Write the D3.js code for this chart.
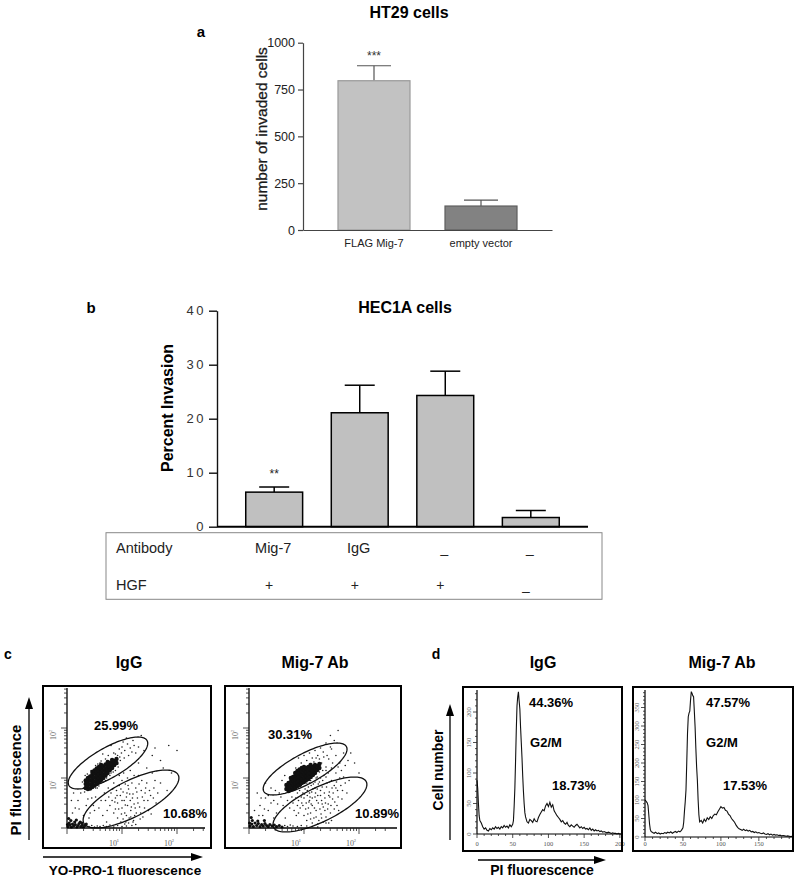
<!DOCTYPE html>
<html><head><meta charset="utf-8">
<script src="https://cdn.jsdelivr.net/npm/d3@7"></script>
<style>body{margin:0;background:#fff}svg{display:block}</style>
</head><body><script>
// ================= DATA =================
// Panel a
const aTitle = "HT29 cells";
const aCategories = ["FLAG Mig-7", "empty vector"];
const aValues = [797, 128];
const aErrors = [80, 32];
const aTicks = [0, 250, 500, 750, 1000];
const aStars = ["***", ""];
const aYLabel = "number of invaded cells";

// Panel b
const bTitle = "HEC1A cells";
const bGroups = ["g1", "g2", "g3", "g4"];
const bValues = [6.4, 21.1, 24.3, 1.7];
const bErrors = [0.95, 5.1, 4.5, 1.3];
const bTicks = [0, 10, 20, 30, 40];
const bStars = ["**", "", "", ""];
const bAntibody = ["Mig-7", "IgG", "–", "–"];
const bHGF = ["+", "+", "+", "–"];
const bYLabel = "Percent Invasion";

// Panel c (flow cytometry, values given as log10 decades)
const cTitles = ["IgG", "Mig-7 Ab"];
const cUpperPct = ["25.99%", "30.31%"];
const cLowerPct = ["10.68%", "10.89%"];
const cTickValues = [10, 100];
// gates: center [lx, ly], semi-axis vectors u, v (decades)
const cUpperGates = [[[0.745, 1.30], [0.71, 0.45], [0.136, -0.26]], [[1.02, 1.18], [0.75, 0.45], [0.136, -0.26]]];
const cLowerGates = [[[1.164, 0.58], [0.858, 0.482], [0.149, -0.32]], [[1.29, 0.47], [0.84, 0.46], [0.15, -0.30]]];
const cIgGBase = "0.02,0.03 0.05,0.06 0.08,0.02 0.10,0.08 0.12,0.04 0.15,0.07 0.18,0.02 0.20,0.05 0.22,0.09 0.25,0.03 0.28,0.06 0.30,0.02 0.33,0.05 0.04,0.10 0.14,0.12 0.24,0.12 0.35,0.08 0.07,0.15 0.17,0.16 0.03,0.19 0.01,0.07 0.27,0.10";
const cIgGCore = "0.34,0.80 0.34,0.88 0.34,0.95 0.38,0.78 0.38,0.86 0.38,0.93 0.38,1.00 0.42,0.79 0.42,0.87 0.42,0.95 0.42,1.03 0.46,0.82 0.46,0.90 0.46,0.98 0.46,1.06 0.46,1.12 0.50,0.85 0.50,0.93 0.50,1.01 0.50,1.09 0.50,1.15 0.54,0.88 0.54,0.96 0.54,1.04 0.54,1.12 0.54,1.19 0.58,0.92 0.58,1.00 0.58,1.08 0.58,1.15 0.58,1.22 0.62,0.96 0.62,1.04 0.62,1.11 0.62,1.19 0.62,1.26 0.66,1.00 0.66,1.07 0.66,1.15 0.66,1.23 0.70,1.05 0.70,1.12 0.70,1.19 0.70,1.27 0.74,1.10 0.74,1.17 0.74,1.24 0.74,1.32 0.78,1.16 0.78,1.23 0.78,1.30 0.82,1.20 0.82,1.28 0.82,1.36 0.86,1.26 0.86,1.34 0.90,1.30 0.90,1.38";
const cIgGSparse = "0.30,0.80 0.33,1.05 0.28,0.92 0.52,1.25 0.60,1.30 0.75,1.45 0.85,1.50 0.92,1.45 0.95,1.58 1.00,1.62 1.05,1.55 1.02,1.72 1.10,1.68 1.08,1.80 0.97,1.35 0.93,1.22 0.88,1.15 0.80,1.10 0.70,0.95 0.62,0.90 1.15,1.60 1.20,1.75 1.25,1.50 1.30,1.62 1.40,1.55 1.55,1.45 1.70,1.35 1.05,2.05 0.80,1.65 0.65,1.48 0.55,0.80 0.25,0.70 0.20,0.55 0.35,0.45 0.45,0.60 0.15,0.40 0.50,0.35 0.30,0.25 1.35,1.85 1.85,1.65 1.60,1.60 0.10,0.30 0.08,0.55 0.22,0.38 0.40,0.20 0.12,0.70 " +
  "0.75,0.80 0.80,0.70 0.85,0.90 0.88,0.60 0.90,0.75 0.92,0.50 0.95,0.85 0.97,0.65 1.00,0.40 1.00,0.95 1.02,0.72 1.04,0.55 1.05,0.30 1.06,0.88 1.08,0.62 1.10,0.45 1.10,1.00 1.12,0.78 1.13,0.20 1.15,0.55 1.16,0.35 1.18,0.90 1.20,0.68 1.21,0.15 1.22,0.48 1.25,0.80 1.26,0.30 1.28,0.60 1.30,1.05 1.32,0.42 1.35,0.75 1.38,0.22 1.40,0.55 1.45,0.90 1.48,0.35 1.52,0.65 1.58,0.80 0.70,0.55 0.78,0.45 0.85,0.30 0.92,0.20 0.98,0.12 1.05,0.08 1.12,0.10 1.18,0.05 1.25,0.07 0.65,0.25 0.72,0.12 1.03,1.10 1.15,1.15 1.22,1.05 0.95,1.05 1.08,0.25 1.14,0.68 1.24,0.40 1.33,0.18 0.82,0.55 0.88,0.38 1.00,0.55 1.36,0.95 1.42,0.70 1.62,0.50 1.70,0.90 1.55,1.10 " +
  "0.40,0.03 0.45,0.05 0.50,0.02 0.55,0.04 0.60,0.03 0.66,0.05 0.72,0.03 0.78,0.06 0.85,0.02 0.92,0.05 1.00,0.03 1.08,0.04 " +
  "0.32,0.72 0.37,1.08 0.44,1.15 0.52,0.80 0.58,0.84 0.66,0.92 0.72,1.00 0.78,1.05 0.84,1.12 0.92,1.28 0.96,1.42 0.70,1.38 0.62,1.34 0.56,1.28 0.88,1.48 0.99,1.50 1.04,1.40 1.12,1.45 1.18,1.52 1.22,1.65 0.98,0.78 1.06,0.46 1.09,0.70 1.11,0.85 1.17,0.42 1.19,0.60 1.23,0.25 1.27,0.72 1.29,0.50 1.31,0.88 1.34,0.30 1.37,0.62 1.41,0.40 1.43,0.80 1.47,0.55 1.50,0.75 1.53,0.28 1.57,0.60 1.60,0.95 1.65,0.70 0.83,0.78 0.87,0.52 0.91,0.65 0.94,0.38 0.99,0.28 1.02,0.18 1.07,0.12 1.16,0.22 1.20,0.12 0.76,0.62 0.73,0.35 0.68,0.70 0.62,0.55 0.58,0.40 0.52,0.62 0.48,0.45 0.42,0.30 0.38,0.58 1.75,1.20 1.90,1.10 1.82,0.75 2.00,1.55 1.45,1.20 1.30,1.30";
const cMigBase = "0.02,0.04 0.05,0.08 0.08,0.03 0.11,0.10 0.14,0.05 0.17,0.09 0.20,0.03 0.23,0.07 0.26,0.04 0.29,0.09 0.32,0.05 0.35,0.03 0.38,0.07 0.42,0.04 0.46,0.06 0.50,0.03 0.55,0.05 0.60,0.02 0.06,0.15 0.16,0.14 0.28,0.15 0.04,0.21 0.01,0.10";
const cMigCore = "0.68,0.78 0.68,0.86 0.72,0.74 0.72,0.82 0.72,0.90 0.76,0.76 0.76,0.84 0.76,0.92 0.76,1.00 0.80,0.78 0.80,0.86 0.80,0.94 0.80,1.02 0.84,0.80 0.84,0.88 0.84,0.96 0.84,1.04 0.84,1.10 0.88,0.84 0.88,0.92 0.88,1.00 0.88,1.08 0.88,1.14 0.92,0.86 0.92,0.94 0.92,1.02 0.92,1.10 0.92,1.17 0.96,0.90 0.96,0.98 0.96,1.06 0.96,1.14 0.96,1.20 1.00,0.92 1.00,1.00 1.00,1.08 1.00,1.16 1.00,1.22 1.04,0.96 1.04,1.04 1.04,1.12 1.04,1.20 1.08,0.98 1.08,1.06 1.08,1.14 1.08,1.22 1.12,1.02 1.12,1.10 1.12,1.18 1.12,1.26 1.16,1.06 1.16,1.14 1.16,1.22 1.20,1.10 1.20,1.18 1.20,1.26 1.24,1.16 1.24,1.24 1.28,1.20 1.28,1.28";
const cMigSparse = "0.60,0.95 0.65,1.05 0.85,1.20 0.95,1.30 1.05,1.35 1.15,1.40 1.25,1.45 1.30,1.60 1.35,1.52 1.40,1.70 1.45,1.38 1.50,1.58 1.55,1.75 1.48,1.85 1.20,1.55 1.10,1.50 1.32,1.30 1.40,1.22 1.58,1.45 1.65,1.30 1.72,1.50 1.80,1.35 0.55,0.70 0.45,0.55 0.30,0.60 0.35,0.35 0.20,0.45 0.50,0.30 0.40,0.80 0.25,0.25 1.62,1.95 1.00,1.45 0.90,1.40 0.15,0.70 0.10,0.35 0.30,0.90 " +
  "0.95,0.85 0.98,0.70 1.00,0.60 1.02,0.78 1.04,0.50 1.05,0.90 1.06,0.65 1.08,0.40 1.08,0.82 1.10,0.55 1.12,0.95 1.12,0.30 1.14,0.72 1.15,0.45 1.17,0.88 1.18,0.20 1.20,0.62 1.22,1.00 1.22,0.35 1.24,0.78 1.26,0.50 1.27,0.15 1.28,0.92 1.30,0.65 1.31,0.28 1.33,0.82 1.35,0.42 1.36,1.05 1.38,0.60 1.40,0.22 1.42,0.90 1.44,0.48 1.46,0.72 1.48,0.30 1.50,0.95 1.52,0.58 1.55,0.38 1.58,0.80 1.62,0.62 1.65,1.00 1.70,0.75 1.75,0.90 0.85,0.60 0.88,0.45 0.90,0.30 0.92,0.75 0.80,0.50 0.82,0.35 1.00,0.25 1.05,0.15 1.15,0.10 1.25,0.08 1.35,0.12 1.45,0.10 1.18,1.05 1.28,1.12 1.40,1.15 1.10,0.70 1.32,0.55 1.20,0.80 1.38,0.35 1.25,0.65 1.15,0.60 1.45,0.65 1.55,0.85 1.60,0.45 1.03,0.95 1.13,0.85 0.96,0.50 1.07,0.28 " +
  "0.65,0.05 0.70,0.03 0.75,0.06 0.80,0.04 0.88,0.03 0.95,0.05 1.05,0.04 1.15,0.03 1.25,0.02 " +
  "0.98,0.45 1.01,0.68 1.03,0.38 1.06,0.75 1.09,0.52 1.11,0.62 1.13,0.48 1.16,0.78 1.19,0.40 1.21,0.70 1.23,0.55 1.26,0.88 1.29,0.38 1.30,0.75 1.33,0.48 1.34,0.95 1.37,0.70 1.39,0.50 1.41,0.82 1.43,0.38 1.46,0.92 1.47,0.62 1.49,0.45 1.51,0.80 1.53,0.70 1.56,0.52 1.59,0.92 1.61,0.75 1.63,0.35 1.67,0.85 1.69,0.58 1.72,1.02 1.78,0.70 1.82,0.95 1.10,0.90 1.14,1.00 1.20,0.92 1.24,1.02 1.30,1.00 1.34,1.15 1.40,1.02 1.44,1.10 1.50,1.20 1.52,1.30 1.58,1.10 1.62,1.22 1.68,1.15 1.75,1.25 1.42,1.45 1.48,1.62 1.28,1.38 1.36,1.42 1.18,1.32 1.22,1.40 0.88,0.70 0.90,0.55 0.93,0.40 0.95,0.62 0.86,0.25 0.78,0.62 0.74,0.40 0.70,0.55 0.66,0.20 0.62,0.45 0.58,0.62 0.52,0.48 0.48,0.75 0.45,0.20 0.40,0.50 0.35,0.65 0.28,0.38 0.22,0.60 0.18,0.25 1.12,0.18 1.22,0.22 1.32,0.20 1.40,0.10 1.50,0.15 1.92,1.30 1.85,1.50 2.00,1.10";

// Panel d (DNA content histograms): [PI fluorescence, cell count]
const dTitles = ["IgG", "Mig-7 Ab"];
const dPeak1Pct = ["44.36%", "47.57%"];
const dPhase = ["G2/M", "G2/M"];
const dPeak2Pct = ["18.73%", "17.53%"];
const dIgGX = [0,1,2,3,4,6,8,10,12,14,16,18,20,22,24,26,28,30,32,34,36,38,40,42,44,46,48,50,51,52,53,54,55,56,57,58,59,60,61,62,63,64,65,66,67,68,70,72,74,76,78,80,82,84,86,88,90,92,94,96,98,100,102,104,106,108,110,112,114,116,118,120,122,124,126,128,130,132,134,136,138,140,142,144,146,148,150,152,154,156,158,160,162,164,166,168,170,172,174,176,178,180,182,184,186,188,190,192,194,196,198,200,202];
const dIgGY = [88,75,50,30,22,18,12,8,10,6,5,9,7,10,8,12,9,11,8,12,10,14,11,13,10,15,12,16,22,45,75,120,170,210,225,233,218,205,175,150,125,95,70,50,35,28,20,18,24,22,19,25,21,20,27,32,36,40,38,46,50,45,52,44,48,38,34,30,27,24,20,22,18,16,19,14,12,15,13,11,14,16,13,10,12,9,11,8,9,7,10,6,8,5,7,5,6,4,5,3,4,3,2,3,2,1,2,1,1,0,1,0,0];
const dMigX = [0,1,2,3,4,5,6,7,8,10,12,14,16,18,20,22,24,26,28,30,32,34,36,38,40,42,44,46,48,50,51,52,53,54,55,56,57,58,59,60,61,62,63,64,65,66,67,68,69,70,71,72,74,76,78,80,82,84,86,88,90,92,94,96,98,100,102,104,106,108,110,112,114,116,118,120,122,124,126,128,130,132,134,136,138,140,142,144,146,148,150,152,154,156,158,160,162,164,166,168,170,172,174,176,178,180,182,184,186,188,190,192,194];
const dMigY = [100,98,95,92,85,60,35,20,15,12,10,13,9,11,8,10,9,12,10,13,11,14,10,13,15,12,16,14,18,25,40,70,95,127,200,280,325,335,340,370,393,388,382,379,340,298,240,190,154,100,60,41,45,38,48,42,52,47,55,50,58,62,60,68,75,82,78,80,72,70,62,58,50,45,40,32,26,22,20,18,21,17,19,16,18,14,15,12,14,11,12,10,9,11,8,7,9,6,8,5,7,5,6,4,5,3,4,3,2,3,2,1,2];
const dXTicks = [[0, 50, 100, 150, 200], [0, 50, 100, 150]];
const dYTicks = [[0, 50, 100, 150, 200], [0, 50, 100, 150, 200, 250, 300, 350]];

// ================= DRAWING =================
const FONT = '"Liberation Sans", Arial, Helvetica, sans-serif';
const SERIF = '"Liberation Serif", "DejaVu Serif", serif';
const svg = d3.select("body").append("svg").attr("width", 800).attr("height", 881);

function txt(g, x, y, s, size, o = {}) {
  const t = g.append("text").attr("x", x).attr("y", y).text(s)
    .attr("font-size", size).attr("font-family", o.family || FONT)
    .attr("font-weight", o.bold ? "bold" : "normal")
    .attr("text-anchor", o.anchor || "middle").attr("fill", o.fill || "#000");
  if (o.rotate) t.attr("transform", `rotate(${o.rotate},${x},${y})`);
  if (o.ls) t.attr("letter-spacing", o.ls);
  return t;
}
const parsePts = s => s.trim().split(/\s+/).map(p => p.split(",").map(Number));

// ---------- Panel a ----------
{
  const g = svg.append("g");
  const y = d3.scaleLinear().domain([0, 1000]).range([230, 42.7]);
  const x = d3.scaleBand().domain(aCategories).range([303, 552]).paddingInner(0.327).paddingOuter(0.327);
  const fills = ["#c2c2c2", "#828282"], strokes = ["#9a9a9a", "#5e5e5e"];
  aCategories.forEach((c, i) => {
    const cx = x(c) + x.bandwidth() / 2;
    g.append("line").attr("x1", cx).attr("x2", cx).attr("y1", y(aValues[i])).attr("y2", y(aValues[i] + aErrors[i])).attr("stroke", "#555").attr("stroke-width", 1.2);
    g.append("line").attr("x1", cx - 17).attr("x2", cx + 17).attr("y1", y(aValues[i] + aErrors[i])).attr("y2", y(aValues[i] + aErrors[i])).attr("stroke", "#555").attr("stroke-width", 1.2);
    g.append("rect").attr("x", x(c)).attr("y", y(aValues[i])).attr("width", x.bandwidth()).attr("height", y(0) - y(aValues[i]))
      .attr("fill", fills[i]).attr("stroke", strokes[i]).attr("stroke-width", 1.2);
    if (aStars[i]) txt(g, cx, 60, aStars[i], 12, { fill: "#333" });
  });
  const ay = g.append("g").attr("transform", "translate(303,0)").call(d3.axisLeft(y).tickValues(aTicks).tickFormat(d3.format("d")).tickSize(5).tickPadding(3).tickSizeOuter(0));
  ay.selectAll("text").attr("font-size", 12.5).attr("font-family", FONT).attr("fill", "#222");
  ay.selectAll("line,path").attr("stroke", "#444").attr("stroke-width", 1.2);
  const ax = g.append("g").attr("transform", "translate(0,230)").call(d3.axisBottom(x).tickSize(0).tickPadding(9).tickSizeOuter(0));
  ax.selectAll("text").attr("font-size", 11).attr("font-family", FONT).attr("fill", "#222");
  ax.selectAll("path").attr("stroke", "#444").attr("stroke-width", 1.2);
  txt(g, 409, 18, aTitle, 16, { bold: true });
  txt(g, 201, 37, "a", 15, { bold: true });
  txt(g, 267, 129, aYLabel, 15.5, { rotate: -90, fill: "#1a1a1a" }).attr("stroke", "#1a1a1a").attr("stroke-width", 0.3);
}

// ---------- Panel b ----------
{
  const g = svg.append("g");
  const y = d3.scaleLinear().domain([0, 40]).range([526.7, 310.7]);
  const x = d3.scaleBand().domain(bGroups).range([217, 588]).paddingInner(0.335).paddingOuter(0.336);
  bGroups.forEach((c, i) => {
    const cx = x(c) + x.bandwidth() / 2;
    const top = y(bValues[i] + bErrors[i]);
    g.append("line").attr("x1", cx).attr("x2", cx).attr("y1", y(bValues[i])).attr("y2", top).attr("stroke", "#000").attr("stroke-width", 1.5);
    g.append("line").attr("x1", cx - 15).attr("x2", cx + 15).attr("y1", top).attr("y2", top).attr("stroke", "#000").attr("stroke-width", 1.5);
    g.append("rect").attr("x", x(c)).attr("y", y(bValues[i])).attr("width", x.bandwidth()).attr("height", y(0) - y(bValues[i]))
      .attr("fill", "#c0c0c0").attr("stroke", "#000").attr("stroke-width", 1.5);
    if (bStars[i]) txt(g, cx, 478, bStars[i], 12, { fill: "#222" });
    txt(g, cx - 1, 553, bAntibody[i], 14.5, { fill: "#222" }).attr("dy", bAntibody[i] === "–" ? 6 : 0);
    txt(g, cx - 5, 590, bHGF[i], 14, { fill: "#222" }).attr("dy", bHGF[i] === "–" ? 6 : 0);
  });
  const ay = g.append("g").attr("transform", "translate(217,0)").call(d3.axisLeft(y).tickValues(bTicks).tickSize(8).tickPadding(3).tickSizeOuter(0));
  ay.selectAll("text").attr("font-size", 13).attr("font-family", FONT).attr("fill", "#333").attr("letter-spacing", 2.5);
  ay.selectAll("line,path").attr("stroke", "#111").attr("stroke-width", 1.4);
  g.append("line").attr("x1", 217).attr("x2", 588).attr("y1", y(0)).attr("y2", y(0)).attr("stroke", "#000").attr("stroke-width", 2);
  g.append("rect").attr("x", 106).attr("y", 532.7).attr("width", 496).attr("height", 66.6).attr("fill", "none").attr("stroke", "#888").attr("stroke-width", 1);
  txt(g, 116, 553, "Antibody", 14.5, { anchor: "start", fill: "#222" });
  txt(g, 116, 590, "HGF", 14.5, { anchor: "start", fill: "#222" });
  txt(g, 405, 313, bTitle, 16, { bold: true });
  txt(g, 91, 313, "b", 15, { bold: true });
  txt(g, 173, 408, bYLabel, 16, { bold: true, rotate: -90 });
}

// ---------- Panel c ----------
function arrow(g, x1, y1, x2, y2) {
  g.append("line").attr("x1", x1).attr("y1", y1).attr("x2", x2).attr("y2", y2).attr("stroke", "#000").attr("stroke-width", 1.3);
  const a = Math.atan2(y2 - y1, x2 - x1), L = 9, W = 4;
  const p = [[x2 + Math.cos(a) * 3, y2 + Math.sin(a) * 3],
    [x2 - Math.cos(a) * L + Math.sin(a) * W, y2 - Math.sin(a) * L - Math.cos(a) * W],
    [x2 - Math.cos(a) * L - Math.sin(a) * W, y2 - Math.sin(a) * L + Math.cos(a) * W]];
  g.append("path").attr("d", "M" + p.join("L") + "Z").attr("fill", "#000");
}
function supLabel(g, x, y, base, exp, rot) {
  const t = g.append("text").attr("x", x).attr("y", y).attr("font-size", 8).attr("font-family", SERIF)
    .attr("fill", "#666").attr("text-anchor", "middle");
  t.append("tspan").text(base);
  t.append("tspan").text(exp).attr("font-size", 6).attr("dy", -3);
  if (rot) t.attr("transform", `rotate(${rot},${x},${y})`);
}
{
  const g = svg.append("g");
  const boxes = [{ l: 43, t: 686, r: 211, b: 848, ox: 67, oy: 828, xr: 205 }, { l: 225, t: 686, r: 401, b: 848, ox: 249, oy: 828, xr: 397 }];
  const base = [cIgGBase, cMigBase].map(parsePts), core = [cIgGCore, cMigCore].map(parsePts), sparse = [cIgGSparse, cMigSparse].map(parsePts);
  boxes.forEach((B, k) => {
    const xs = d3.scaleLog().domain([1, 10 ** 2.5]).range([B.ox, B.ox + 55 * 2.5]);
    const ys = d3.scaleLog().domain([1, 10 ** 2.8]).range([B.oy, B.oy - 50 * 2.8]);
    const P = d => [xs(10 ** d[0]), ys(10 ** d[1])];
    const cid = "clipc" + k;
    g.append("clipPath").attr("id", cid).append("rect").attr("x", B.l).attr("y", B.t).attr("width", B.r - B.l).attr("height", B.b - B.t);
    const inner = g.append("g").attr("clip-path", `url(#${cid})`);
    inner.selectAll(".s").data(sparse[k]).join("circle").attr("cx", d => P(d)[0]).attr("cy", d => P(d)[1]).attr("r", 0.8).attr("fill", "#222");
    inner.selectAll(".c").data(core[k]).join("circle").attr("cx", d => P(d)[0]).attr("cy", d => P(d)[1]).attr("r", 2.2).attr("fill", "#111");
    inner.selectAll(".b").data(base[k]).join("circle").attr("cx", d => P(d)[0]).attr("cy", d => P(d)[1]).attr("r", 1.6).attr("fill", "#111");
    [cUpperGates[k], cLowerGates[k]].forEach(gate => {
      const [c, u, v] = gate;
      const pts = d3.range(0, 2 * Math.PI + 0.01, Math.PI / 60).map(t => P([c[0] + u[0] * Math.cos(t) + v[0] * Math.sin(t), c[1] + u[1] * Math.cos(t) + v[1] * Math.sin(t)]));
      inner.append("path").attr("d", d3.line()(pts)).attr("fill", "none").attr("stroke", "#111").attr("stroke-width", 1.3);
    });
    // axes
    g.append("line").attr("x1", B.ox).attr("x2", B.xr).attr("y1", B.oy).attr("y2", B.oy).attr("stroke", "#000").attr("stroke-width", 1.3);
    g.append("line").attr("x1", B.ox).attr("x2", B.ox).attr("y1", B.oy).attr("y2", B.t + 2).attr("stroke", "#000").attr("stroke-width", 1.3);
    xs.ticks().filter(v => xs(v) <= B.xr).forEach(v => {
      const major = Math.abs(Math.log10(v) % 1) < 1e-6;
      g.append("line").attr("x1", xs(v)).attr("x2", xs(v)).attr("y1", B.oy).attr("y2", B.oy + (major ? 6 : 3)).attr("stroke", "#222").attr("stroke-width", 0.8);
    });
    ys.ticks().filter(v => ys(v) >= B.t + 2).forEach(v => {
      const major = Math.abs(Math.log10(v) % 1) < 1e-6;
      g.append("line").attr("x1", B.ox).attr("x2", B.ox - (major ? 6 : 3)).attr("y1", ys(v)).attr("y2", ys(v)).attr("stroke", "#222").attr("stroke-width", 0.8);
    });
    cTickValues.forEach(v => {
      const e = Math.round(Math.log10(v)) === 1 ? "¹" : "²";
      supLabel(g, xs(v) - 8, 846, "10", e);
      supLabel(g, B.ox - 11, ys(v) + 7, "10", e, -90);
    });
    g.append("rect").attr("x", B.l).attr("y", B.t).attr("width", B.r - B.l).attr("height", B.b - B.t).attr("fill", "none").attr("stroke", "#000").attr("stroke-width", 2);
  });
  txt(g, 129, 668, cTitles[0], 16, { bold: true });
  txt(g, 315, 668, cTitles[1], 16, { bold: true });
  txt(g, 116, 730, cUpperPct[0], 13, { bold: true });
  txt(g, 185, 818, cLowerPct[0], 13, { bold: true });
  txt(g, 290, 739, cUpperPct[1], 13, { bold: true });
  txt(g, 377, 818, cLowerPct[1], 13, { bold: true });
  txt(g, 8, 659, "c", 14, { bold: true });
  arrow(g, 29, 840, 29, 700);
  arrow(g, 43, 857, 200, 857);
  txt(g, 21, 780, "PI fluorescence", 15, { bold: true, rotate: -90 });
  txt(g, 125, 875, "YO-PRO-1 fluorescence", 13.5, { bold: true });
}

// ---------- Panel d ----------
{
  const g = svg.append("g");
  const boxes = [
    { l: 463, t: 687, r: 622, b: 851, x0: 477, x1: 622, xMax: 203, y0: 834, y1: 681.5, yMax: 250 },
    { l: 633, t: 687, r: 793, b: 851, x0: 645, x1: 793, xMax: 195, y0: 837, y1: 689, yMax: 400 }];
  const series = [d3.zip(dIgGX, dIgGY), d3.zip(dMigX, dMigY)];
  boxes.forEach((B, k) => {
    const xs = d3.scaleLinear().domain([0, B.xMax]).range([B.x0, B.x1]);
    const ys = d3.scaleLinear().domain([0, B.yMax]).range([B.y0, B.y1]);
    const cid = "clipd" + k;
    g.append("clipPath").attr("id", cid).append("rect").attr("x", B.l).attr("y", B.t).attr("width", B.r - B.l).attr("height", B.b - B.t);
    g.append("path").attr("clip-path", `url(#${cid})`).attr("d", d3.line().x(d => xs(d[0])).y(d => ys(d[1]))(series[k]))
      .attr("fill", "none").attr("stroke", "#111").attr("stroke-width", 1.1);
    g.append("line").attr("x1", B.x0).attr("x2", B.x1).attr("y1", B.y0).attr("y2", B.y0).attr("stroke", "#000").attr("stroke-width", 1.2);
    g.append("line").attr("x1", B.x0).attr("x2", B.x0).attr("y1", B.y0).attr("y2", B.t + 3).attr("stroke", "#000").attr("stroke-width", 1.2);
    d3.range(0, B.xMax + 0.1, 10).forEach(v => {
      const major = v % 50 === 0;
      g.append("line").attr("x1", xs(v)).attr("x2", xs(v)).attr("y1", B.y0).attr("y2", B.y0 + (major ? 4 : 2)).attr("stroke", "#222").attr("stroke-width", 0.8);
    });
    d3.range(0, B.yMax + 0.1, 10).filter(v => ys(v) >= B.t + 3).forEach(v => {
      const major = v % 50 === 0;
      g.append("line").attr("x1", B.x0).attr("x2", B.x0 - (major ? 4 : 2)).attr("y1", ys(v)).attr("y2", ys(v)).attr("stroke", "#222").attr("stroke-width", 0.8);
    });
    dXTicks[k].forEach(v => txt(g, xs(v), 846, String(v), 6.5, { family: SERIF, fill: "#555" }));
    dYTicks[k].forEach(v => txt(g, B.x0 - 6, ys(v), String(v), 6.5, { family: SERIF, fill: "#555", rotate: -90 }));
    g.append("rect").attr("x", B.l).attr("y", B.t).attr("width", B.r - B.l).attr("height", B.b - B.t).attr("fill", "none").attr("stroke", "#000").attr("stroke-width", 2);
  });
  txt(g, 543, 668, dTitles[0], 16, { bold: true });
  txt(g, 722, 668, dTitles[1], 16, { bold: true });
  txt(g, 551, 707, dPeak1Pct[0], 13, { bold: true });
  txt(g, 546, 747, dPhase[0], 13, { bold: true });
  txt(g, 574, 790, dPeak2Pct[0], 13, { bold: true });
  txt(g, 728, 707, dPeak1Pct[1], 13, { bold: true });
  txt(g, 722, 747, dPhase[1], 13, { bold: true });
  txt(g, 745, 790, dPeak2Pct[1], 13, { bold: true });
  txt(g, 436, 659, "d", 14, { bold: true });
  arrow(g, 450, 840, 450, 707);
  arrow(g, 478, 860, 603, 860);
  txt(g, 443, 770, "Cell number", 14, { bold: true, rotate: -90 });
  txt(g, 542, 875, "PI fluorescence", 14, { bold: true });
}
</script></body></html>
